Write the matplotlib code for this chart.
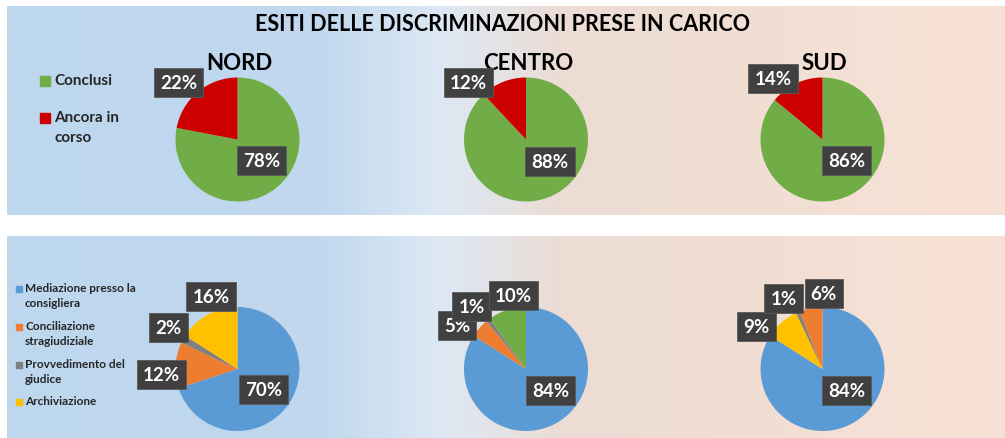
import matplotlib.pyplot as plt
import numpy as np
from matplotlib.colors import to_rgb

plt.rcParams['font.family'] = ['Lato', 'DejaVu Sans']

# ---- data -------------------------------------------------------------
regioni = ['NORD', 'CENTRO', 'SUD']

stato_labels = ['Conclusi', 'Ancora in\ncorso']
conclusi = [78, 88, 86]
in_corso = [22, 12, 14]

esito_labels = ['Mediazione presso la\nconsigliera', 'Conciliazione\nstragiudiziale',
                'Provvedimento del\ngiudice', 'Archiviazione']
mediazione = [70, 84, 84]
conciliazione = [12, 5, 6]
provvedimento = [2, 1, 1]
archiviazione = [16, 10, 9]

title = 'ESITI DELLE DISCRIMINAZIONI PRESE IN CARICO'

# ---- style / layout (pixel units, y measured from top) ----------------
W, H = 1005, 439
GREEN, RED = '#70AD47', '#CC0000'
BLUE, ORANGE, GREY, YELLOW = '#5B9BD5', '#ED7D31', '#808080', '#FFC000'
esito_colors = [BLUE, ORANGE, GREY, YELLOW]
BOX = '#404040'

# background gradient stops (x px, colour)
grad_stops = [(7, '#BDD7EE'), (320, '#C1D8EE'), (440, '#DDE8F4'), (500, '#E4E3E6'),
              (560, '#ECDCD3'), (1005, '#F8E2D5')]
panels = [(7, 216), (237, 439)]

pie_x = [237.5, 526, 822.5]
top_y, bot_y, R = 140.5, 370, 62

# slice order (clockwise from 12 o'clock) of the lower pies, and colour overrides
bot_order = [[0, 1, 2, 3], [0, 1, 2, 3], [0, 3, 2, 1]]
bot_colors = [[BLUE, ORANGE, GREY, YELLOW], [BLUE, ORANGE, GREY, GREEN],
              [BLUE, YELLOW, GREY, ORANGE]]
# label placement as (distance in radii, angle in degrees)
top_lbl = [[(0.52, -41), (1.32, 136)], [(0.52, -42), (1.31, 135.5)],
           [(0.52, -41), (1.27, 129)]]
bot_lbl = [[(0.53, -38), (1.23, 184), (1.30, 149), (1.25, 110)],
           [(0.53, -42), (1.31, 148), (1.34, 131), (1.20, 100)],
           [(0.52, -41), (1.27, 147), (1.30, 119), (1.21, 89)]]

fig = plt.figure(figsize=(W / 100, H / 100), dpi=100)
ax = fig.add_axes([0, 0, 1, 1])


def Y(y):
    return H - y


# gradient panels
xs = np.arange(W)
sx = [s[0] for s in grad_stops]
cols = np.array([to_rgb(s[1]) for s in grad_stops])
row = np.stack([np.interp(xs, sx, cols[:, k]) for k in range(3)], axis=-1)
for y0, y1 in panels:
    ax.imshow(row[None, 7:, :], extent=[7, W, Y(y1), Y(y0)], aspect='auto',
              interpolation='bilinear', zorder=0)


def draw_pie(vals, colors, cx, cy, lbls):
    ax.pie(vals, colors=colors, startangle=90, counterclock=False,
           center=(cx, Y(cy)), radius=R, wedgeprops=dict(linewidth=0), frame=True)
    for v, (d, a) in zip(vals, lbls):
        t = np.deg2rad(a)
        ax.text(cx + d * R * np.cos(t), Y(cy) + d * R * np.sin(t), f'{v}%',
                ha='center', va='center', color='white', fontsize=13.5, fontweight='bold',
                bbox=dict(boxstyle='square,pad=0.32', fc=BOX, ec='#5a5a5a', lw=0.6),
                zorder=5)


for i, reg in enumerate(regioni):
    draw_pie([conclusi[i], in_corso[i]], [GREEN, RED], pie_x[i], top_y, top_lbl[i])
    ax.text(pie_x[i] + 2, Y(63), reg, ha='center', va='center', fontsize=16,
            fontweight='bold', color='black')
    series = [mediazione[i], conciliazione[i], provvedimento[i], archiviazione[i]]
    vals = [series[k] for k in bot_order[i]]
    draw_pie(vals, bot_colors[i], pie_x[i], bot_y, bot_lbl[i])

ax.text(503, Y(24), title, ha='center', va='center', fontsize=15.5,
        fontweight='bold', color='black')

# legend, upper panel
for lab, c, y in zip(stato_labels, [GREEN, RED], [82, 119]):
    ax.plot(44.5, Y(y), marker='s', ms=6.5, color=c, lw=0)
    ax.text(54, Y(y - 8), lab, ha='left', va='top', fontsize=11, fontweight='bold',
            color='#262626', linespacing=1.55)

# legend, lower panel
for lab, c, y in zip(esito_labels, esito_colors, [290, 328, 366, 403]):
    ax.plot(18.5, Y(y), marker='s', ms=5, color=c, lw=0)
    ax.text(25, Y(y - 6.5), lab, ha='left', va='top', fontsize=8.5, fontweight='bold',
            color='#262626', linespacing=1.4)

ax.set_xlim(0, W)
ax.set_ylim(0, H)
ax.axis('off')

fig.savefig('out.png', dpi=100, facecolor='white')
